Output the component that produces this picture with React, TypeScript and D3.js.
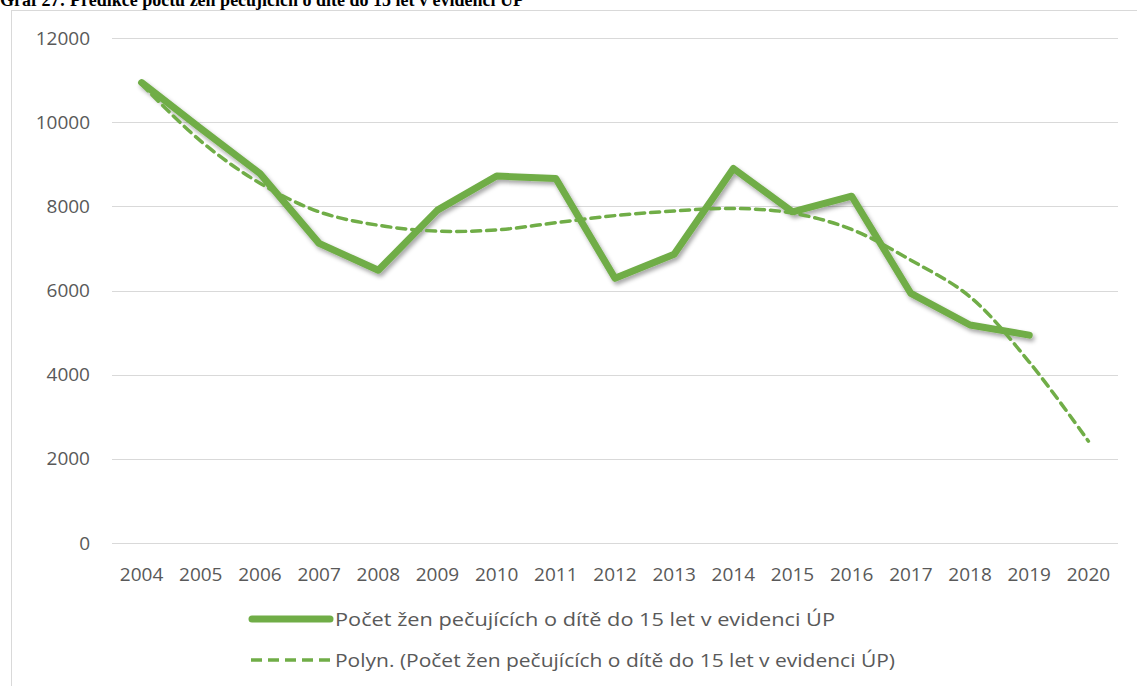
import { useEffect, useRef } from "react";
import * as d3 from "d3";

const years = ["2004", "2005", "2006", "2007", "2008", "2009", "2010", "2011", "2012", "2013", "2014", "2015", "2016", "2017", "2018", "2019", "2020"];
// počet žen (2004–2019)
const counts = [10940, 9850, 8780, 7120, 6480, 7910, 8720, 8660, 6290, 6860, 8900, 7870, 8240, 5930, 5180, 4940];
// polynomický trend, prodloužený do 2020
const trend = [10900, 9550, 8550, 7870, 7550, 7410, 7440, 7610, 7780, 7890, 7950, 7840, 7450, 6720, 5850, 4300, 2420];
const yTicks = [0, 2000, 4000, 6000, 8000, 10000, 12000];

const seriesName = "Počet žen pečujících o dítě do 15 let v evidenci ÚP";
const trendName = "Polyn. (Počet žen pečujících o dítě do 15 let v evidenci ÚP)";
const title = "Graf 27: Predikce počtu žen pečujících o dítě do 15 let v evidenci ÚP";

const green = "#70ad47";
const textColor = "#595959";
const font = "'Open Sans', sans-serif";

const App = () => {
  const svgRef = useRef(null);

  useEffect(() => {
    const svg = d3.select(svgRef.current);
    svg.selectAll("*").remove();

    const width = 1137;
    const height = 686;
    const plot = { left: 112, right: 1118, top: 38, bottom: 543 };

    const defs = svg.append("defs");
    const shadow = defs
      .append("filter")
      .attr("id", "shadow")
      .attr("x", "-10%")
      .attr("y", "-10%")
      .attr("width", "120%")
      .attr("height", "120%");
    shadow
      .append("feDropShadow")
      .attr("dx", 2)
      .attr("dy", 3)
      .attr("stdDeviation", 2)
      .attr("flood-color", "#000")
      .attr("flood-opacity", 0.35);

    svg.attr("width", width).attr("height", height);

    // title, cut off at the top like in the source document
    svg
      .append("text")
      .attr("x", 0)
      .attr("y", 6)
      .attr("font-family", "'Liberation Serif', serif")
      .attr("font-weight", "bold")
      .attr("font-size", 18)
      .attr("fill", "#000")
      .text(title);

    // chart frame
    svg
      .append("rect")
      .attr("x", 11.5)
      .attr("y", 10.5)
      .attr("width", width)
      .attr("height", height)
      .attr("fill", "#fff")
      .attr("stroke", "#d9d9d9");

    const x = d3
      .scaleBand()
      .domain(years)
      .range([plot.left, plot.right]);
    const cx = (d) => x(d) + x.bandwidth() / 2;

    const y = d3.scaleLinear().domain([0, 12000]).range([plot.bottom, plot.top]);

    // gridlines
    svg
      .append("g")
      .selectAll("line")
      .data(yTicks)
      .join("line")
      .attr("x1", plot.left)
      .attr("x2", plot.right)
      .attr("y1", (d) => Math.round(y(d)) + 0.5)
      .attr("y2", (d) => Math.round(y(d)) + 0.5)
      .attr("stroke", "#d9d9d9")
      .attr("stroke-width", 1.2);

    // y labels
    svg
      .append("g")
      .selectAll("text")
      .data(yTicks)
      .join("text")
      .attr("x", 90)
      .attr("y", (d) => y(d))
      .attr("dy", "0.35em")
      .attr("text-anchor", "end")
      .attr("font-family", font)
      .attr("font-size", 19)
      .attr("fill", textColor)
      .text((d) => d);

    // x labels
    svg
      .append("g")
      .selectAll("text")
      .data(years)
      .join("text")
      .attr("x", (d) => cx(d))
      .attr("y", 581)
      .attr("text-anchor", "middle")
      .attr("font-family", font)
      .attr("font-size", 19)
      .attr("fill", textColor)
      .text((d) => d);

    const line = d3
      .line()
      .x((d, i) => cx(years[i]))
      .y((d) => y(d));

    svg
      .append("path")
      .datum(counts)
      .attr("d", line)
      .attr("fill", "none")
      .attr("stroke", green)
      .attr("stroke-width", 7)
      .attr("stroke-linejoin", "round")
      .attr("stroke-linecap", "round")
      .attr("filter", "url(#shadow)");

    svg
      .append("path")
      .datum(trend)
      .attr("d", line.curve(d3.curveCatmullRom.alpha(0.5)))
      .attr("fill", "none")
      .attr("stroke", green)
      .attr("stroke-width", 3.5)
      .attr("stroke-dasharray", "9 6")
      .attr("stroke-linecap", "round");

    // legend
    const legend = svg.append("g");
    legend
      .append("line")
      .attr("x1", 252)
      .attr("x2", 330)
      .attr("y1", 619)
      .attr("y2", 619)
      .attr("stroke", green)
      .attr("stroke-width", 7)
      .attr("stroke-linecap", "round");
    legend
      .append("text")
      .attr("x", 335)
      .attr("y", 626)
      .attr("font-family", font)
      .attr("font-size", 18)
      .attr("fill", textColor)
      .attr("textLength", 500)
      .attr("lengthAdjust", "spacingAndGlyphs")
      .text(seriesName);
    legend
      .append("line")
      .attr("x1", 251)
      .attr("x2", 331)
      .attr("y1", 660)
      .attr("y2", 660)
      .attr("stroke", green)
      .attr("stroke-width", 3.5)
      .attr("stroke-dasharray", "11 6");
    legend
      .append("text")
      .attr("x", 335)
      .attr("y", 667)
      .attr("font-family", font)
      .attr("font-size", 18)
      .attr("fill", textColor)
      .attr("textLength", 560)
      .attr("lengthAdjust", "spacingAndGlyphs")
      .text(trendName);
  }, []);

  return (
    <div style={{ position: "absolute", left: 0, top: 0, background: "#fff" }}>
      <svg ref={svgRef} style={{ display: "block" }}></svg>
    </div>
  );
};

export default App;
